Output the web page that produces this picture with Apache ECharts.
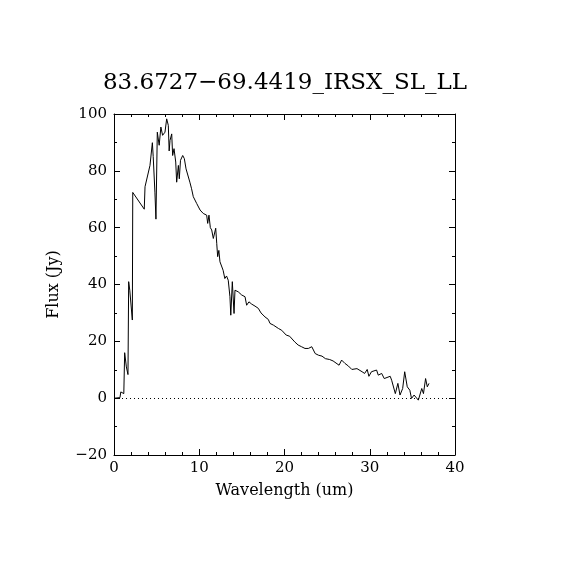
<!DOCTYPE html>
<html>
<head>
<meta charset="utf-8">
<script src="https://cdn.jsdelivr.net/npm/echarts@6/dist/echarts.min.js"></script>
<style>
  html, body { margin: 0; padding: 0; background: #fff; }
  #main { width: 570px; height: 570px; }
</style>
</head>
<body>
<div id="main"></div>
<script>
// spectrum: wavelength (um) and flux (Jy)
const wave = [
  0.1, 0.7, 0.8, 1.15, 1.25, 1.45, 1.64, 1.72, 1.85, 2.15,
  2.2, 3.55, 3.64, 4.22, 4.5, 4.6, 4.8, 4.92, 5.08, 5.3,
  5.5, 5.7, 5.98, 6.18, 6.37, 6.47, 6.57, 6.77, 6.88, 7.04,
  7.24, 7.35, 7.55, 7.66, 7.8, 8.06, 8.25, 8.45, 8.64, 8.9,
  9.1, 9.3, 9.5, 9.7, 9.9, 10.1, 10.3, 10.47, 10.87, 10.99,
  11.14, 11.3, 11.46, 11.65, 11.93, 12.05, 12.16, 12.3, 12.43, 12.6,
  12.8, 13.0, 13.2, 13.4, 13.6, 13.7, 13.88, 14.08, 14.19, 14.4,
  14.58, 14.98, 15.37, 15.56, 15.83, 16.15, 16.54, 16.93, 17.24, 17.71,
  18.1, 18.3, 18.7, 18.9, 19.3, 19.67, 20.2, 20.6, 21.2, 21.6,
  22.0, 22.4, 22.8, 23.2, 23.6, 24.0, 24.4, 24.8, 25.3, 25.7,
  26.4, 26.7, 27.1, 27.5, 27.9, 28.5, 29.1, 29.4, 29.7, 29.9,
  30.2, 30.8, 31.0, 31.4, 31.7, 32.4, 32.57, 33.0, 33.3, 33.55,
  33.86, 34.1, 34.4, 34.7, 34.9, 35.2, 35.7, 36.1, 36.3, 36.55,
  36.75, 36.95
];
const flux = [
  0, 0.2, 2.2, 1.6, 16, 11, 8.3, 41, 38, 27.5,
  72.4, 66.5, 74.4, 81.9, 89.9, 85, 72.5, 63, 93.6, 89,
  95.4, 92.5, 93.6, 98.3, 96, 87, 90.7, 93, 85.4, 87.8,
  83.1, 76, 81.9, 77.2, 83.7, 85.4, 84.3, 80.7, 80.2, 76,
  73.7, 70.9, 70.3, 68.5, 68.5, 66.2, 66.5, 65, 64.4, 61.5,
  64.4, 60, 59.2, 56.2, 59.8, 54.5, 49.8, 52, 48, 48.6,
  45, 42.1, 43, 41.5, 35.7, 29.2, 41, 29.8, 38, 37.4,
  37.4, 36.3, 35.7, 32.7, 33.9, 33.1, 32.4, 31.6, 30, 28.6,
  27.7, 26.3, 25.7, 25.1, 24.5, 23.9, 22.2, 21.8, 19.8, 18.7,
  18.1, 17.5, 17.5, 18.1, 15.7, 15.1, 14.8, 13.9, 13.6, 13.1,
  11.6, 13.4, 12.2, 11.3, 10.1, 10.4, 9.3, 8.7, 10.1, 7.7,
  9.3, 9.9, 8.1, 8.7, 6.9, 7.7, 6.3, 1.6, 5.2, 1.1,
  3.4, 9.3, 4.0, 2.8, -0.1, 1.1, -0.7, 3.4, 1.6, 6.9,
  4.0, 5.2
];

const titleText = '83.6727\u221269.4419_IRSX_SL_LL';
const xName = 'Wavelength (um)';
const yName = 'Flux (Jy)';

const font = 'DejaVu Serif';
const chart = echarts.init(document.getElementById('main'));

const fmt = v => String(v).replace('-', '\u2212');
const tickIn = (len) => ({ show: true, inside: true, length: len, lineStyle: { color: '#000', width: 1 } });
const minorIn = { show: true, splitNumber: 5, length: 3, lineStyle: { color: '#000', width: 1 } };

const option = {
  animation: false,
  backgroundColor: '#fff',
  title: {
    text: titleText,
    left: 'center',
    top: 67,
    textStyle: { fontFamily: font, fontSize: 23, fontWeight: 'normal', color: '#000' }
  },
  grid: { left: 114, top: 114, width: 341, height: 341 },
  xAxis: [
    {
      type: 'value', min: 0, max: 40, interval: 10,
      name: xName, nameLocation: 'middle', nameGap: 28,
      nameTextStyle: { fontFamily: font, fontSize: 16, color: '#000' },
      axisLine: { onZero: false, lineStyle: { color: '#000', width: 1 } },
      axisTick: tickIn(6),
      minorTick: minorIn,
      splitLine: { show: false },
      axisLabel: { fontFamily: font, fontSize: 15, color: '#000', margin: 6, formatter: fmt }
    },
    {
      type: 'value', min: 0, max: 40, interval: 10, position: 'top',
      axisLine: { onZero: false, lineStyle: { color: '#000', width: 1 } },
      axisTick: tickIn(6),
      minorTick: minorIn,
      splitLine: { show: false },
      axisLabel: { show: false }
    }
  ],
  yAxis: [
    {
      type: 'value', min: -20, max: 100, interval: 20,
      name: yName, nameLocation: 'middle', nameGap: 52,
      nameTextStyle: { fontFamily: font, fontSize: 16, color: '#000' },
      axisLine: { onZero: false, lineStyle: { color: '#000', width: 1 } },
      axisTick: tickIn(6),
      minorTick: { show: true, splitNumber: 2, length: 3, lineStyle: { color: '#000', width: 1 } },
      splitLine: { show: false },
      axisLabel: { fontFamily: font, fontSize: 15, color: '#000', margin: 7, formatter: fmt }
    },
    {
      type: 'value', min: -20, max: 100, interval: 20, position: 'right',
      axisLine: { onZero: false, lineStyle: { color: '#000', width: 1 } },
      axisTick: tickIn(6),
      minorTick: { show: true, splitNumber: 2, length: 3, lineStyle: { color: '#000', width: 1 } },
      splitLine: { show: false },
      axisLabel: { show: false }
    }
  ],
  series: [
    {
      type: 'line',
      data: wave.map((w, i) => [w, flux[i]]),
      showSymbol: false,
      symbol: 'none',
      lineStyle: { color: '#000', width: 1 },
      markLine: {
        silent: true,
        symbol: 'none',
        label: { show: false },
        lineStyle: { color: '#000', width: 1, type: [1, 3] },
        data: [{ yAxis: 0 }]
      }
    }
  ]
};

chart.setOption(option);
</script>
</body>
</html>
